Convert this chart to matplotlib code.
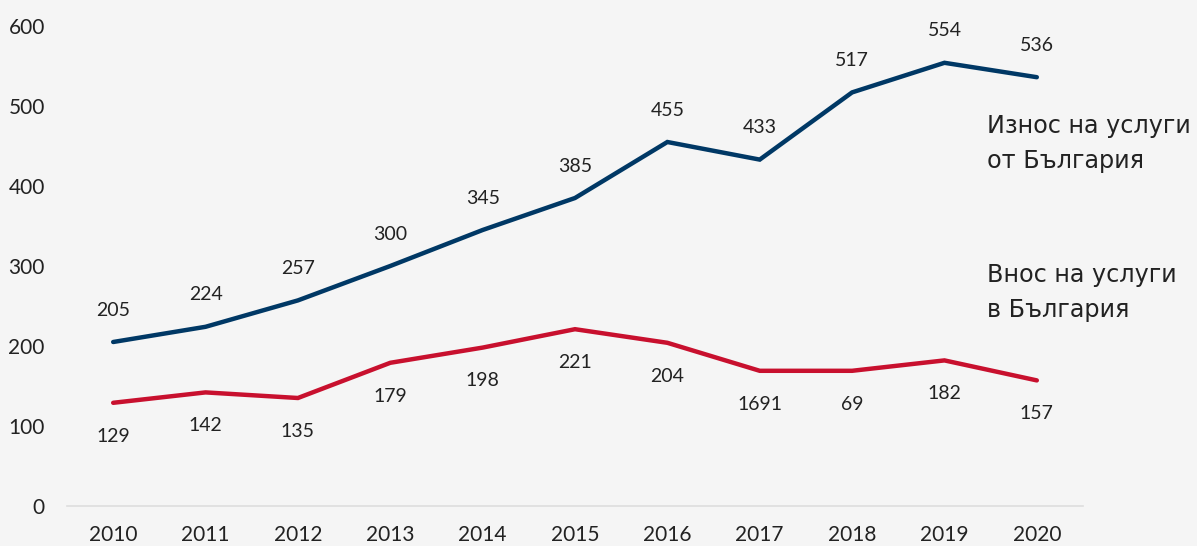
import matplotlib
matplotlib.use("Agg")
import matplotlib.pyplot as plt

years = [2010, 2011, 2012, 2013, 2014, 2015, 2016, 2017, 2018, 2019, 2020]
export_vals = [205, 224, 257, 300, 345, 385, 455, 433, 517, 554, 536]
import_vals = [129, 142, 135, 179, 198, 221, 204, 169, 169, 182, 157]
export_labels = ["205", "224", "257", "300", "345", "385", "455", "433", "517", "554", "536"]
import_labels = ["129", "142", "135", "179", "198", "221", "204", "1691", "69", "182", "157"]
yticks = [0, 100, 200, 300, 400, 500, 600]
export_name = ["Износ на услуги", "от България"]
import_name = ["Внос на услуги", "в България"]

BG = "#f5f5f5"
BLUE = "#003865"
RED = "#c8102e"
TXT = "#222222"

fig = plt.figure(figsize=(11.97, 5.46), dpi=100, facecolor=BG)
W, H = 1197, 546
ax = fig.add_axes([67 / W, 1 - 506 / H, (1083 - 67) / W, (506 - 26) / H], facecolor=BG)

ax.plot(years, export_vals, color=BLUE, lw=3.2, solid_capstyle="round", solid_joinstyle="miter")
ax.plot(years, import_vals, color=RED, lw=3.2, solid_capstyle="round", solid_joinstyle="miter")

for x, v, s in zip(years, export_vals, export_labels):
    ax.annotate(s, (x, v), xytext=(0, 23), textcoords="offset points", ha="center", va="center",
                fontsize=14, family="Lato", color=TXT)
for x, v, s in zip(years, import_vals, import_labels):
    ax.annotate(s, (x, v), xytext=(0, -24), textcoords="offset points", ha="center", va="center",
                fontsize=14, family="Lato", color=TXT)

ax.set_xlim(2009.5, 2020.5)
ax.set_ylim(0, 600)
ax.set_yticks(yticks)
ax.set_xticks(years)
ax.tick_params(length=0, labelsize=15, colors=TXT)
ax.tick_params(axis="x", pad=14)
ax.tick_params(axis="y", pad=16)
for lab in ax.get_xticklabels() + ax.get_yticklabels():
    lab.set_family("Lato")
for sp in ["top", "right", "left"]:
    ax.spines[sp].set_visible(False)
ax.spines["bottom"].set_color("#dddddd")
ax.spines["bottom"].set_linewidth(1.2)

# series names
x0 = 987 / W
for i, line in enumerate(export_name):
    fig.text(x0, 1 - (133 + 35 * i) / H, line, fontsize=17.2, family="DejaVu Sans", color=TXT, va="baseline", ha="left")
for i, line in enumerate(import_name):
    fig.text(x0, 1 - (282 + 35 * i) / H, line, fontsize=17.2, family="DejaVu Sans", color=TXT, va="baseline", ha="left")

fig.savefig("out.png", dpi=100, facecolor=BG)
